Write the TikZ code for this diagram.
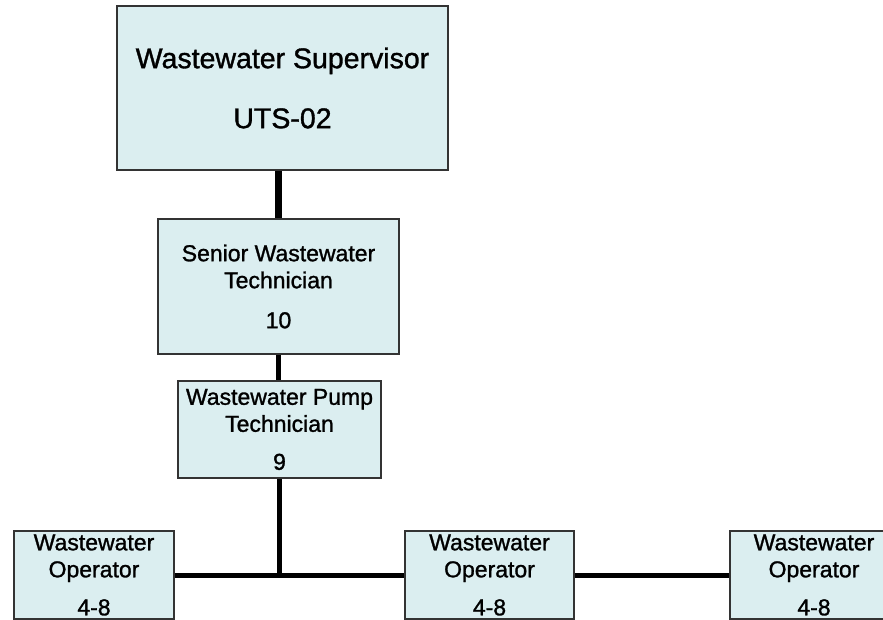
\documentclass[tikz,border=0pt]{standalone}
\usepackage{fontspec}
\setmainfont{Liberation Sans}
\newfontfamily\chartfont{Liberation Sans}[FakeBold=1.2]
\usepackage{tikz}
\usetikzlibrary{calc, positioning}
\usepackage{xcolor}
\definecolor{boxfill}{RGB}{219, 238, 240}
\definecolor{boxline}{RGB}{51, 51, 51}

\tikzset{
  jobbox/.style={draw=boxline, line width=2pt, fill=boxfill, align=center,
    inner sep=0pt, font=\chartfont\fontsize{23}{27}\selectfont},
  link/.style={line width=5pt, black},
}

\begin{document}
\begin{tikzpicture}[x=1pt, y=-1pt]
  \useasboundingbox (0,0) rectangle (883,620);
  \clip (0,0) rectangle (883,620);

  % supervisor
  \node[jobbox, minimum width=331pt, minimum height=164pt,
        font=\chartfont\fontsize{28.5}{60}\selectfont] (sup) at (282.5, 88)
    {Wastewater Supervisor\\UTS-02};

  % technicians
  \node[jobbox, minimum width=241pt, minimum height=135pt] (senior) at (278.5, 286.5)
    {Senior Wastewater\\Technician\\[13pt]10};
  \node[jobbox, minimum width=203pt, minimum height=97pt] (pump) at (279.5, 429.5)
    {Wastewater Pump\\Technician\\[11pt]9};

  % operators
  \foreach \nm/\x/\w in {opA/94/160, opB/489.5/169, opC/814/168}
    \node[jobbox, minimum width=\w pt, minimum height=88pt] (\nm) at (\x, 575)
      {Wastewater\\Operator\\[11pt]4-8};

  % links
  \draw[link, line width=7.5pt] (sup.south -| senior.north) -- (senior.north);
  \draw[link] (senior.south) -- (senior.south |- pump.north);
  \coordinate (hub) at (pump.south |- opA.east);
  \draw[link] (pump.south) -- (hub);
  \draw[link] (opA.east) -- (opB.west);
  \draw[link] (opB.east) -- (opC.west);
\end{tikzpicture}
\end{document}
